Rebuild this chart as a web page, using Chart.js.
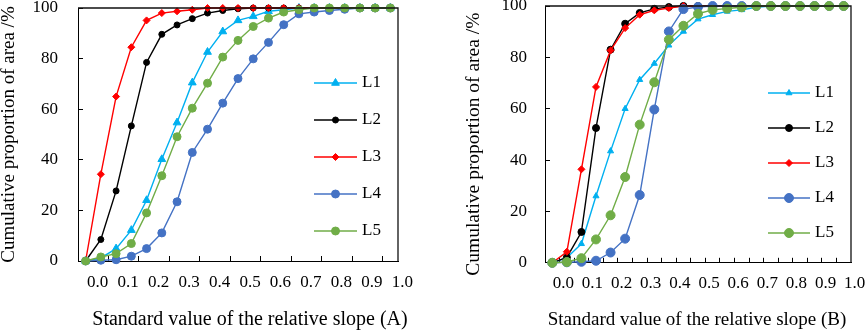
<!DOCTYPE html>
<html>
<head>
<meta charset="utf-8">
<title>Cumulative proportion of area</title>
<script src="https://cdn.jsdelivr.net/npm/chart.js@4.4.1/dist/chart.umd.min.js"></script>
<style>
  html, body { margin:0; padding:0; background:#fff; overflow:hidden; width:865px; height:333px; }
  canvas { position:absolute; top:0; }
  #chartA { left:0; }
  #chartB { left:465px; }
</style>
</head>
<body>
<canvas id="chartA" width="500" height="333"></canvas>
<canvas id="chartB" width="464" height="333"></canvas>
<script>
/* ── categories & tick labels ── */
const SLOPE_CATS = ['0.00','0.05','0.10','0.15','0.20','0.25','0.30','0.35','0.40','0.45','0.50',
                    '0.55','0.60','0.65','0.70','0.75','0.80','0.85','0.90','0.95','1.00'];
const X_TICKS = ['0.0','0.1','0.2','0.3','0.4','0.5','0.6','0.7','0.8','0.9','1.0'];
const SERIES_NAMES = ['L1','L2','L3','L4','L5'];

/* ── panel A values (%) ── */
const A_L1 = [0, 1.2, 4.9, 12.2, 24, 40.2, 54.7, 70.5, 82.6, 90.7, 95.1, 96.7, 98.7, 99.3, 100, 100, 100, 100, 100, 100, 100];
const A_L2 = [0, 8.5, 27.7, 53.4, 78.5, 89.6, 93.3, 95.8, 98, 99, 99.7, 100, 100, 100, 100, 100, 100, 100, 100, 100, 100];
const A_L3 = [0, 34.3, 65, 84.5, 95.1, 98, 98.7, 99.3, 100, 100, 100, 100, 100, 100, 100, 100, 100, 100, 100, 100, 100];
const A_L4 = [0, 0.3, 0.5, 1.9, 4.9, 11.1, 23.4, 42.9, 52.1, 62.4, 72.1, 79.9, 86.4, 93.4, 97.7, 98.4, 99, 99.5, 100, 100, 100];
const A_L5 = [0, 1.6, 2.9, 6.9, 19, 33.7, 49.1, 60.4, 70.3, 80.6, 87.2, 92.7, 96, 98.4, 99.3, 100, 100, 100, 100, 100, 100];

/* ── panel B values (%) ── */
const B_L1 = [0, 2, 7.4, 26, 43.5, 60, 71.3, 77.6, 84.7, 90.1, 94.9, 96.6, 97.9, 98.5, 99.5, 100, 100, 100, 100, 100, 100];
const B_L2 = [0, 2.1, 12, 52.5, 83, 93.1, 97.3, 98.9, 99.6, 100, 100, 100, 100, 100, 100, 100, 100, 100, 100, 100, 100];
const B_L3 = [0, 4.3, 36.4, 68.5, 82.7, 91.4, 96.6, 98.3, 99.2, 100, 100, 100, 100, 100, 100, 100, 100, 100, 100, 100, 100];
const B_L4 = [0, 0.2, 0.4, 0.8, 4, 9.4, 26.4, 59.7, 90.1, 98.8, 99.6, 100, 100, 100, 100, 100, 100, 100, 100, 100, 100];
const B_L5 = [0, 0.3, 1.8, 9.1, 18.5, 33.4, 53.8, 70.3, 86.9, 92.3, 97, 98.5, 99, 99.5, 100, 100, 100, 100, 100, 100, 100];

/* ── styles ── */
const FONT = "'Liberation Serif','Times New Roman',serif";
const COLORS  = ['#00B0F0', '#000000', '#FF0000', '#4472C4', '#70AD47'];
const MARKERS = ['triangle', 'circle', 'rectRot', 'circle', 'circle'];
const Y_TITLE = 'Cumulative proportion of area /%';

/* ── closes the plot box: top + right edges ── */
const plotFrame = {
  id: 'plotFrame',
  afterDraw(chart) {
    const { ctx, chartArea: a } = chart;
    ctx.save();
    ctx.strokeStyle = '#111';
    ctx.lineWidth = 1.3;
    ctx.beginPath();
    ctx.moveTo(a.left, a.top);
    ctx.lineTo(a.right, a.top);
    ctx.lineTo(a.right, a.bottom);
    ctx.stroke();
    ctx.restore();
  }
};

/* ── legend drawn inside the plot box ── */
const legendBox = {
  id: 'legendBox',
  afterDatasetsDraw(chart, args, o) {
    const { ctx, chartArea } = chart;
    ctx.save();
    chart.data.datasets.forEach((ds, i) => {
      const y = chartArea.top + o.top + i * o.gap;
      const x0 = chartArea.right - o.right;
      ctx.strokeStyle = ds.borderColor;
      ctx.lineWidth = ds.borderWidth;
      ctx.beginPath(); ctx.moveTo(x0, y); ctx.lineTo(x0 + o.len, y); ctx.stroke();
      ctx.fillStyle = ds.pointBackgroundColor;
      ctx.lineWidth = ds.pointBorderWidth;
      Chart.helpers.drawPoint(ctx, { pointStyle: ds.pointStyle, rotation: 0, radius: ds.pointRadius, borderWidth: ds.pointBorderWidth }, x0 + o.len / 2, y);
      ctx.fillStyle = '#000';
      ctx.font = o.fontSize + 'px ' + FONT;
      ctx.textBaseline = 'middle';
      ctx.textAlign = 'left';
      ctx.fillText(ds.label, x0 + o.len + 5, y);
    });
    ctx.restore();
  }
};

// empty axes that only reserve room (top margin, right margin)
const spacerAxis = (position, size) => ({
  type: 'linear', position,
  grid: { drawOnChartArea: false, drawTicks: false },
  border: { display: false },
  ticks: { display: false },
  afterFit: s => {
    if (position === 'top') s.height = size; else s.width = size;
    s.paddingTop = s.paddingBottom = s.paddingLeft = s.paddingRight = 0;
  }
});

function buildPanel(id, series, L) {
  const datasets = series.map((vals, i) => ({
    label: SERIES_NAMES[i],
    data: vals,
    borderColor: COLORS[i],
    backgroundColor: COLORS[i],
    pointBackgroundColor: COLORS[i],
    pointBorderColor: COLORS[i],
    pointStyle: MARKERS[i],
    pointRadius: L.radius[i],
    pointBorderWidth: 1,
    borderWidth: 1.4,
    tension: 0,
    order: 5 - i,
    clip: false
  }));
  const tickFont = { family: FONT, size: 17 };
  return new Chart(document.getElementById(id), {
    type: 'line',
    data: { labels: SLOPE_CATS, datasets },
    options: {
      responsive: false, animation: false, devicePixelRatio: 1,
      layout: { padding: 0 },
      plugins: {
        legend: { display: false },
        tooltip: { enabled: false },
        title: {
          display: true, position: 'bottom', text: L.xTitle, color: '#000',
          font: { family: FONT, size: L.xTitleSize, weight: 'normal', lineHeight: 1.2 },
          padding: { top: 0, bottom: L.xTitlePad }
        },
        legendBox: { right: L.legRight, top: L.legTop, gap: L.legGap, len: L.legLen, fontSize: 17 }
      },
      scales: {
        x: {
          type: 'category', offset: true,
          grid: {
            offset: true, drawOnChartArea: false, tickLength: -5,
            tickColor: ctx => (ctx.index !== undefined && ctx.index % L.tickEvery === 0) ? '#000' : 'rgba(0,0,0,0)'
          },
          border: { color: '#000', width: 1 },
          ticks: {
            autoSkip: false, maxRotation: 0, minRotation: 0, padding: 16,
            labelOffset: L.labelOffset, color: '#000', font: tickFont,
            callback: (v, i) => i % 2 === 0 ? X_TICKS[i / 2] : ''
          },
          afterFit: s => { s.height = L.xAxisH; s.paddingLeft = s.paddingRight = 0; }
        },
        x2: spacerAxis('top', L.top),
        y: {
          min: 0, max: 100,
          grid: { drawOnChartArea: false, tickLength: -5, tickColor: '#000' },
          border: { color: '#000', width: 1 },
          ticks: { stepSize: 20, padding: L.yPad, color: '#000', font: tickFont },
          title: {
            display: true, text: Y_TITLE + L.yTitleTail, color: '#000',
            font: { family: FONT, size: L.yTitleSize, lineHeight: 0.9 },
            padding: { top: L.yTitlePad, bottom: 0 }
          },
          afterFit: s => { s.width = L.yAxisW; s.paddingTop = s.paddingBottom = 0; }
        },
        y2: spacerAxis('right', L.rightW)
      }
    },
    plugins: [plotFrame, legendBox]
  });
}

buildPanel('chartA', [A_L1, A_L2, A_L3, A_L4, A_L5], {
  xTitle: 'Standard value of the relative slope (A)', xTitleSize: 20, xTitlePad: 1,
  top: 8, xAxisH: 47, yAxisW: 78, rightW: 102, yPad: 25, yTitleSize: 19, yTitlePad: 0, yTitleTail: '',
  labelOffset: 12, tickEvery: 2,
  radius: [4.5, 3, 3.5, 4, 4],
  legRight: 84, legTop: 75, legGap: 37, legLen: 43
});

buildPanel('chartB', [B_L1, B_L2, B_L3, B_L4, B_L5], {
  xTitle: 'Standard value of the relative slope (B)', xTitleSize: 19, xTitlePad: 1.4,
  top: 6, xAxisH: 46, yAxisW: 80, rightW: 78, yPad: 23, yTitleSize: 19.5, yTitlePad: 0,
  yTitleTail: '\u00A0\u00A0\u00A0\u00A0',
  labelOffset: 11, tickEvery: 1,
  radius: [3.5, 3.5, 3.5, 4.5, 4.5],
  legRight: 83, legTop: 87, legGap: 35, legLen: 42
});
</script>
</body>
</html>
